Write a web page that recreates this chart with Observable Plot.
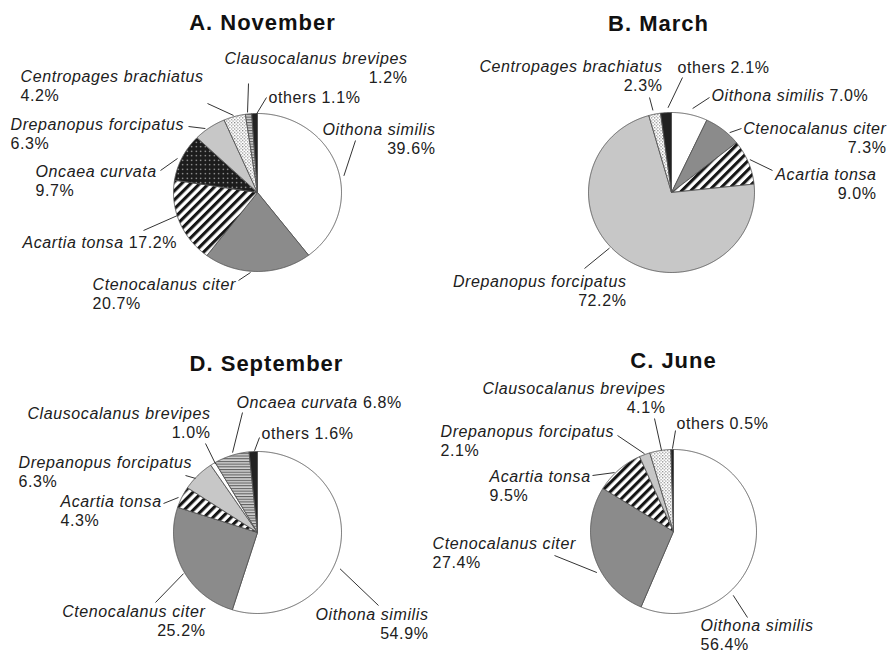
<!DOCTYPE html>
<html>
<head>
<meta charset="utf-8">
<script src="https://cdn.jsdelivr.net/npm/d3@7"></script>
<script src="https://cdn.jsdelivr.net/npm/@observablehq/plot@0.6"></script>
<style>
  html, body { margin: 0; padding: 0; background: #fff; }
  #page { position: relative; width: 887px; height: 653px; overflow: hidden; background: #fff; }
  .panel { position: absolute; }
  .panel svg { overflow: visible; }
</style>
</head>
<body>
<!-- fill patterns shared by all four pies -->
<svg width="0" height="0" style="position:absolute">
  <defs>
    <pattern id="stripes" patternUnits="userSpaceOnUse" width="6.4" height="6.4" patternTransform="rotate(45)">
      <rect width="6.4" height="6.4" fill="#fff"/>
      <rect width="3.1" height="6.4" fill="#151515"/>
    </pattern>
    <pattern id="darkdots" patternUnits="userSpaceOnUse" width="4.5" height="4.5">
      <rect width="4.5" height="4.5" fill="#1c1c1c"/>
      <circle cx="2.25" cy="2.25" r="0.7" fill="#d8d8d8"/>
    </pattern>
    <pattern id="dots" patternUnits="userSpaceOnUse" width="3.2" height="3.2">
      <rect width="3.2" height="3.2" fill="#fff"/>
      <rect x="0" y="0" width="1.2" height="1.2" fill="#8a8a8a"/>
      <rect x="1.6" y="1.6" width="1.2" height="1.2" fill="#8a8a8a"/>
    </pattern>
    <pattern id="hlines" patternUnits="userSpaceOnUse" width="4" height="2.7">
      <rect width="4" height="2.7" fill="#d2d2d2"/>
      <rect y="0" width="4" height="1.1" fill="#5e5e5e"/>
    </pattern>
  </defs>
</svg>
<div id="page"></div>
<script>
// ---- Copepod species composition (% of abundance), slices clockwise from 12 o'clock ----
const novemberSpecies = ["Oithona similis", "Ctenocalanus citer", "Acartia tonsa", "Oncaea curvata",
  "Drepanopus forcipatus", "Centropages brachiatus", "Clausocalanus brevipes", "others"];
const novemberPct = [39.6, 20.7, 17.2, 9.7, 6.3, 4.2, 1.2, 1.1];

const marchSpecies = ["Oithona similis", "Ctenocalanus citer", "Acartia tonsa",
  "Drepanopus forcipatus", "Centropages brachiatus", "others"];
const marchPct = [7.0, 7.3, 9.0, 72.2, 2.3, 2.1];

const septemberSpecies = ["Oithona similis", "Ctenocalanus citer", "Acartia tonsa",
  "Drepanopus forcipatus", "Clausocalanus brevipes", "Oncaea curvata", "others"];
const septemberPct = [54.9, 25.2, 4.3, 6.3, 1.0, 6.8, 1.6];

const juneSpecies = ["Oithona similis", "Ctenocalanus citer", "Acartia tonsa",
  "Drepanopus forcipatus", "Clausocalanus brevipes", "others"];
const junePct = [56.4, 27.4, 9.5, 2.1, 4.1, 0.5];

const panelTitles = ["A. November", "B. March", "D. September", "C. June"];

// ---- fills ----
const fillKeys = ["white", "gray", "light", "stripes", "darkdots", "dots", "hlines", "black"];
const fillValues = ["#ffffff", "#8b8b8b", "#c7c7c7", "url(#stripes)", "url(#darkdots)", "url(#dots)", "url(#hlines)", "#222222"];
const baseFill = {
  "Oithona similis": "white", "Ctenocalanus citer": "gray", "Acartia tonsa": "stripes",
  "Drepanopus forcipatus": "light", "others": "black"
};
const novemberFill = {...baseFill, "Oncaea curvata": "darkdots", "Centropages brachiatus": "dots", "Clausocalanus brevipes": "hlines"};
const marchFill = {...baseFill, "Centropages brachiatus": "dots"};
const septemberFill = {...baseFill, "Clausocalanus brevipes": "white", "Oncaea curvata": "hlines"};
const juneFill = {...baseFill, "Clausocalanus brevipes": "dots"};

// ---- panel geometry (px): panel box, pie centre and radii, title anchor ----
const geomA = {left: 0, top: 0, width: 444, height: 320, cx: 257, cy: 192, rx: 84, ry: 79, tx: 262, ty: 29};
const geomB = {left: 444, top: 0, width: 443, height: 320, cx: 227, cy: 192, rx: 83, ry: 80, tx: 214, ty: 30};
const geomD = {left: 0, top: 320, width: 444, height: 333, cx: 257, cy: 212, rx: 84, ry: 81, tx: 266, ty: 50};
const geomC = {left: 444, top: 320, width: 443, height: 333, cx: 229, cy: 211, rx: 83, ry: 82, tx: 229, ty: 47};

// ---- label placement: text offset from pie centre (px, last baseline), leader start
// (t = fraction along the slice, r = radius factor) and leader end (px offset) ----
const novemberLabels = [
  {name: "Oithona similis", anchor: "end", x: 178, y: -39, lines: 2, t: 0.55, r: 1.05, lx: 98, ly: -52},
  {name: "Ctenocalanus citer", anchor: "start", x: -165, y: 116, lines: 2, t: 0.565, r: 1.016, lx: -19, ly: 88},
  {name: "Acartia tonsa", anchor: "start", x: -235, y: 55, lines: 1, t: 0.58, r: 0.995, lx: -114, ly: 38},
  {name: "Oncaea curvata", anchor: "start", x: -222, y: 3, lines: 2, t: 0.44, r: 1.045, lx: -97, ly: -22},
  {name: "Drepanopus forcipatus", anchor: "start", x: -247, y: -44, lines: 2, t: 0.38, r: 1.02, lx: -69, ly: -66},
  {name: "Centropages brachiatus", anchor: "start", x: -237, y: -92, lines: 2, t: 0.47, r: 1.016, lx: -50, ly: -89},
  {name: "Clausocalanus brevipes", anchor: "end", x: 150, y: -110, lines: 2, t: 0.37, r: 1.02, lx: -9, ly: -109},
  {name: "others", anchor: "start", x: 11, y: -90, lines: 1, t: 0.8, r: 0.99, lx: 9, ly: -95}
];
const marchLabels = [
  {name: "Oithona similis", anchor: "start", x: 40, y: -92, lines: 1, t: 0.54, r: 1.08, lx: 38, ly: -95},
  {name: "Ctenocalanus citer", anchor: "end", x: 215, y: -40, lines: 2, t: 0.68, r: 1.025, lx: 70, ly: -64},
  {name: "Acartia tonsa", anchor: "end", x: 205, y: 6, lines: 2, t: 0.46, r: 1.03, lx: 101, ly: -22},
  {name: "Drepanopus forcipatus", anchor: "end", x: -45, y: 113, lines: 2, t: 0.55, r: 1.02, lx: -87, ly: 76},
  {name: "Centropages brachiatus", anchor: "end", x: -9, y: -102, lines: 2, t: 0.43, r: 1.05, lx: -22, ly: -95},
  {name: "others", anchor: "start", x: 6, y: -120, lines: 1, t: 0.7, r: 1.06, lx: 11, ly: -115}
];
const septemberLabels = [
  {name: "Oithona similis", anchor: "end", x: 171, y: 106, lines: 2, t: 0.58, r: 1.08, lx: 121, ly: 73},
  {name: "Ctenocalanus citer", anchor: "end", x: -52, y: 103, lines: 2, t: 0.47, r: 1.016, lx: -102, ly: 70},
  {name: "Acartia tonsa", anchor: "start", x: -197, y: -7, lines: 2, t: 0.43, r: 1.035, lx: -94, ly: -29},
  {name: "Drepanopus forcipatus", anchor: "start", x: -239, y: -46, lines: 2, t: 0.38, r: 0.995, lx: -72, ly: -57},
  {name: "Clausocalanus brevipes", anchor: "end", x: -47, y: -95, lines: 2, t: 0.9, r: 0.98, lx: -52, ly: -89},
  {name: "Oncaea curvata", anchor: "start", x: -21, y: -125, lines: 1, t: 0.55, r: 1.03, lx: -15, ly: -120},
  {name: "others", anchor: "start", x: 4, y: -94, lines: 1, t: 0.65, r: 1.01, lx: 2, ly: -95}
];
const juneLabels = [
  {name: "Oithona similis", anchor: "start", x: 27, y: 118, lines: 2, t: 0.676, r: 1.06, lx: 74, ly: 86},
  {name: "Ctenocalanus citer", anchor: "start", x: -241, y: 36, lines: 2, t: 0.39, r: 1.05, lx: -119, ly: 24},
  {name: "Acartia tonsa", anchor: "start", x: -184, y: -31, lines: 2, t: 0.4, r: 1.01, lx: -81, ly: -56},
  {name: "Drepanopus forcipatus", anchor: "start", x: -233, y: -76, lines: 2, t: 0.52, r: 1.01, lx: -56, ly: -96},
  {name: "Clausocalanus brevipes", anchor: "end", x: -8, y: -119, lines: 2, t: 0.56, r: 1.0, lx: -19, ly: -113},
  {name: "others", anchor: "start", x: 3, y: -103, lines: 1, t: 0.6, r: 1.01, lx: 2, ly: -101}
];

const FONT = "Liberation Sans, Arial, Helvetica, sans-serif";
const FS = 16, LS = 0.6, LH = 18.7, TITLE_LS = 1;

const ctx = document.createElement("canvas").getContext("2d");
ctx.font = `italic ${FS}px "Liberation Sans"`;
const textWidth = s => ctx.measureText(s).width + s.length * LS;

function piePanel(title, names, values, fills, geom, labels) {
  const total = d3.sum(values);
  let acc = 0;
  const slices = names.map((name, i) => {
    const a0 = acc / total * 2 * Math.PI;
    acc += values[i];
    const a1 = acc / total * 2 * Math.PI;
    return {name, value: values[i], a0, a1, fill: fills[name]};
  });

  // closed wedge outlines in unit pie coordinates (angle measured clockwise from top)
  const wedges = slices.flatMap(s => {
    const n = Math.max(2, Math.ceil((s.a1 - s.a0) / (Math.PI / 360)));
    const pts = [{name: s.name, fill: s.fill, x: 0, y: 0}];
    for (let k = 0; k <= n; ++k) {
      const a = s.a0 + (s.a1 - s.a0) * k / n;
      pts.push({name: s.name, fill: s.fill, x: Math.sin(a), y: Math.cos(a)});
    }
    pts.push({name: s.name, fill: s.fill, x: 0, y: 0});
    return pts;
  });

  const italic = [], upright = [], leaders = [];
  for (const l of labels) {
    const s = slices.find(d => d.name === l.name);
    const pct = s.value.toFixed(1) + "%";
    const ux = l.x / geom.rx, uy = -l.y / geom.ry;
    if (l.name === "others") {
      upright.push({x: ux, y: uy, text: `others ${pct}`, anchor: "start"});
    } else if (l.lines === 1) {
      italic.push({x: ux, y: uy, text: l.name, anchor: l.anchor});
      upright.push({x: (l.x + textWidth(l.name + " ")) / geom.rx, y: uy, text: pct, anchor: "start"});
    } else {
      italic.push({x: ux, y: -(l.y - LH) / geom.ry, text: l.name, anchor: l.anchor});
      upright.push({x: ux, y: uy, text: pct, anchor: l.anchor});
    }
    const a = s.a0 + l.t * (s.a1 - s.a0);
    leaders.push({x1: l.r * Math.sin(a), y1: l.r * Math.cos(a), x2: l.lx / geom.rx, y2: -l.ly / geom.ry});
  }

  const textMarks = [];
  for (const [rows, style] of [[italic, "italic"], [upright, "normal"]]) {
    for (const anchor of ["start", "end"]) {
      textMarks.push(Plot.text(rows.filter(d => d.anchor === anchor), {
        x: "x", y: "y", text: "text", textAnchor: anchor, lineAnchor: "bottom",
        fontSize: FS, fontFamily: FONT, fontStyle: style, fill: "#202020"
      }));
    }
  }

  const plot = Plot.plot({
    width: geom.width,
    height: geom.height,
    margin: 0,
    x: {domain: [-1, 1], range: [geom.cx - geom.rx, geom.cx + geom.rx], axis: null},
    y: {domain: [-1, 1], range: [geom.cy + geom.ry, geom.cy - geom.ry], axis: null},
    color: {type: "ordinal", domain: fillKeys, range: fillValues},
    style: {background: "transparent", overflow: "visible"},
    marks: [
      Plot.line(wedges, {x: "x", y: "y", z: "name", fill: "fill", stroke: "#555", strokeWidth: 0.9,
        strokeLinejoin: "round", curve: "linear"}),
      Plot.link(leaders, {x1: "x1", y1: "y1", x2: "x2", y2: "y2", stroke: "#333", strokeWidth: 1}),
      ...textMarks,
      Plot.text([title], {text: d => d, frameAnchor: "top-left", dx: geom.tx, dy: geom.ty,
        textAnchor: "middle", lineAnchor: "bottom", fontSize: 22, fontWeight: "bold",
        fontFamily: FONT, fill: "#111"})
    ]
  });
  // widen the lettering a little
  for (const t of plot.querySelectorAll("text")) {
    t.style.letterSpacing = (t.textContent === title ? TITLE_LS : LS) + "px";
  }
  const div = document.createElement("div");
  div.className = "panel";
  div.style.left = geom.left + "px";
  div.style.top = geom.top + "px";
  div.appendChild(plot);
  return div;
}

const page = document.getElementById("page");
page.appendChild(piePanel(panelTitles[0], novemberSpecies, novemberPct, novemberFill, geomA, novemberLabels));
page.appendChild(piePanel(panelTitles[1], marchSpecies, marchPct, marchFill, geomB, marchLabels));
page.appendChild(piePanel(panelTitles[2], septemberSpecies, septemberPct, septemberFill, geomD, septemberLabels));
page.appendChild(piePanel(panelTitles[3], juneSpecies, junePct, juneFill, geomC, juneLabels));
</script>
</body>
</html>
